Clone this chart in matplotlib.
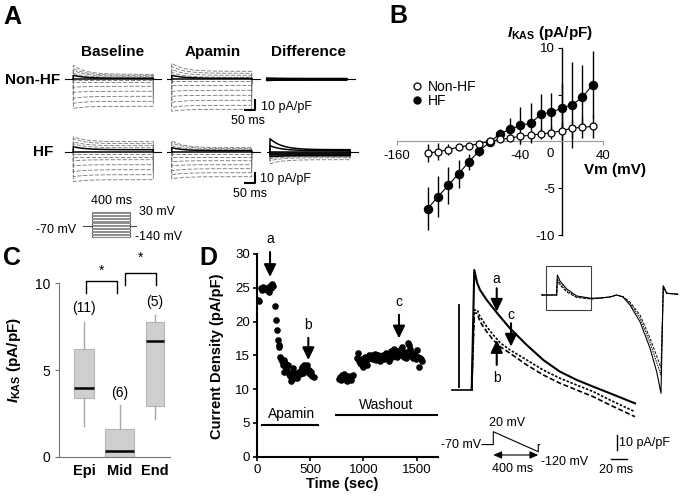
import numpy as np
import matplotlib
matplotlib.use('Agg')
import matplotlib.pyplot as plt
from matplotlib.lines import Line2D
from matplotlib.patches import Rectangle

plt.rcParams['font.family'] = ['Liberation Sans', 'DejaVu Sans']
plt.rcParams['mathtext.fontset'] = 'custom'
plt.rcParams['mathtext.rm'] = 'Liberation Sans:bold'
plt.rcParams['mathtext.it'] = 'Liberation Sans:italic:bold'
plt.rcParams['mathtext.bf'] = 'Liberation Sans:bold'

W, H = 683, 500

# ---------------- panel A: step families (steady / initial current, pA/pF)
nonhf_base_steady = [-27, -22, -17, -12, -7, -3, -1, 0, 1, 2, 3, 4, 5]
nonhf_base_peak = [-29, -24, -19, -13, -8, -3, -1, 0, 4, 6, 9, 11, 14]
nonhf_apa_steady = [-30, -26, -21, -16, -11, -6, -2, 0, 1, 2, 4, 6, 8]
nonhf_apa_peak = [-32, -28, -23, -17, -12, -6, -2, 0, 4, 7, 10, 13, 16]
nonhf_diff_steady = [-1.0, -0.5, 0.0, 0.5]
nonhf_diff_peak = [-1.5, -0.5, 0.0, 1.0]
hf_base_steady = [-28, -23, -18, -13, -8, -5, -2, 0, 2, 4, 6, 8, 10]
hf_base_peak = [-30, -25, -20, -14, -9, -5, -2, 0, 5, 8, 10, 13, 15]
hf_apa_steady = [-25, -21, -17, -13, -9, -5, -2, 0, 1, 2, 3, 4]
hf_apa_peak = [-27, -23, -19, -14, -10, -5, -2, 0, 4, 6, 9, 11]
hf_diff_steady = [-8, -6, -5, -4, -3, -2, -1, 0, 1, 2]
hf_diff_peak = [-12, -9, -7, -5, -3, -2, -1, 0, 6, 13]
step_levels = list(range(-140, 31, 10))

# ---------------- panel B: I-V
vm = [-130, -120, -110, -100, -90, -80, -70, -60, -50, -40, -30, -20, -10, 0, 10, 20, 30]
hf_mean = [-7.2, -5.9, -4.7, -3.45, -2.2, -1.0, -0.1, 0.8, 1.3, 1.7, 1.95, 2.9, 3.1, 3.55, 3.9, 4.7, 6.05]
hf_err = [2.3, 2.2, 2.0, 1.5, 0.9, 0.6, 0.3, 0.5, 1.2, 2.0, 2.1, 2.2, 2.05, 2.65, 4.6, 3.5, 3.6]
nonhf_mean = [-1.25, -1.1, -0.9, -0.6, -0.45, -0.25, 0.0, 0.2, 0.35, 0.55, 0.65, 0.8, 0.9, 1.15, 1.4, 1.5, 1.6]
nonhf_err = [1.0, 0.9, 0.6, 0.3, 0.2, 0.2, 0.1, 0.2, 0.2, 0.3, 0.4, 0.6, 0.7, 1.0, 1.0, 1.1, 1.2]

# ---------------- panel C: box plots
regions = ['Epi', 'Mid', 'End']
n_cells = ['(11)', '(6)', '(5)']
whis_lo = [1.75, 0.0, 2.2]
q1 = [3.4, 0.0, 2.95]
med = [3.95, 0.33, 6.67]
q3 = [6.2, 1.6, 7.75]
whis_hi = [7.8, 3.0, 8.2]

# ---------------- panel D: time course
t_sec = [15, 25, 40, 50, 62, 75, 88, 100, 112, 122, 132, 140, 148, 156,
         172, 180, 188, 196, 205, 212, 220, 228, 236, 244, 252, 260, 268, 276, 285, 294,
         303, 312, 322, 332, 342, 352, 362, 372, 382, 392, 402, 412, 422, 432, 442, 452,
         462, 472, 482, 492, 502, 512, 522, 534,
         770, 780, 790, 800, 810, 820, 830, 840, 850, 860, 870, 880, 890, 905,
         940, 950, 960, 970, 980, 990, 1000, 1010, 1020, 1030, 1040, 1050, 1060, 1070,
         1080, 1090, 1100, 1110, 1120, 1130, 1140, 1150, 1160, 1170, 1180, 1190, 1200,
         1210, 1220, 1230, 1240, 1250, 1260, 1270, 1280, 1290, 1300, 1310, 1320, 1330,
         1340, 1350, 1360, 1370, 1380, 1390, 1400, 1410, 1420, 1430, 1440, 1450, 1460,
         1470, 1480, 1490, 1500, 1510, 1520, 1530, 1540, 1550]
density = [23.2, 23.0, 24.9, 24.6, 25.1, 24.8, 25.0, 24.7, 24.4, 25.2, 24.9, 25.4, 25.6, 25.3,
           22.3, 20.3, 18.7, 17.2, 16.6, 16.2, 14.8, 14.4, 14.1, 13.6, 12.5, 14.3, 13.9, 13.2, 12.7, 13.5,
           12.2, 11.9, 11.2, 12.4, 13.1, 11.6, 12.0, 12.4, 11.7, 12.6, 12.3, 12.9, 13.3, 12.4, 13.6, 12.9,
           13.4, 13.5, 12.6, 12.8, 12.2, 12.6, 12.0, 11.8,
           11.5, 11.8, 11.3, 12.1, 11.6, 12.3, 11.9, 11.4, 11.2, 12.0, 11.6, 11.3, 11.9, 12.1,
           14.6, 15.3, 14.2, 13.8, 14.5, 13.6, 13.3, 14.1, 14.7, 13.5, 14.4, 15.0, 14.6, 14.9,
           15.1, 14.4, 14.8, 15.2, 14.3, 14.6, 15.0, 14.7, 14.2, 14.8, 15.0, 14.5, 14.9,
           15.3, 14.6, 15.0, 14.1, 15.4, 15.6, 14.8, 15.2, 15.9, 15.3, 15.7, 14.7, 15.6,
           15.1, 16.0, 16.3, 15.2, 14.8, 15.5, 14.6, 15.0, 16.8, 16.5, 16.0, 14.9, 15.4,
           14.6, 15.1, 14.5, 15.8, 14.7, 13.3, 14.6, 14.4, 14.2]

# ramp-evoked currents (ms, pA/pF) for a = baseline, b = apamin, c = washout
tr_t = [0, 3.3, 7.1, 10.6, 19.1, 27.5, 36.1, 48.8, 70.1, 91.2, 112.5, 133.8, 154.9, 176.2, 208]
tr_a = [0, 80, 71.1, 66.7, 60, 54.5, 48.9, 41.1, 30, 20, 12.2, 6.7, 2.2, -2.2, -8.9]
tr_b = [0, 51.3, 51.1, 45.5, 38.9, 33.3, 28.9, 24.5, 16.7, 10, 4.5, 0, -4.5, -10, -17.8]
tr_c = [0, 53.3, 53.3, 48.9, 42.2, 36.7, 31.5, 26.7, 20, 13.3, 7.8, 3.3, -1.1, -6.7, -14.5]
# whole-ramp inset traces
ins_t = [-57.5, 0, 2.3, 12.7, 38.4, 76.7, 131.5, 166, 204.4, 230, 254, 281, 319.5, 357.8, 383.5, 400, 408.8, 421.8, 465]
ins_a = [0, 0, 80, 56, 24, -4, -13, -12, -8, 0, -8, -40, -107, -212, -307, -393, 37, 7, 3]
ins_b = [0, 0, 56, 40, 12, -10, -16, -13, -8, 0, -6, -28, -80, -172, -244, -292, 32, 7, 3]
ins_c = [0, 0, 64, 46, 17, -8, -15, -12, -8, 0, -7, -33, -92, -190, -270, -320, 34, 7, 3]
ramp_t = [-100, 0, 0, 400, 400, 412]
ramp_v = [-70, -70, 20, -120, -70, -70]

fig = plt.figure(figsize=(6.83, 5), dpi=100)


def rect(x0, x1, y0, y1):
    return [x0 / W, 1 - y1 / H, (x1 - x0) / W, (y1 - y0) / H]


def px_axes(x0, x1, y0, y1, xlim, ylim):
    ax = fig.add_axes(rect(x0, x1, y0, y1))
    ax.set_xlim(xlim)
    ax.set_ylim(ylim)
    ax.axis('off')
    return ax


def ftext(x, y, s, **kw):
    kw.setdefault('ha', 'center')
    kw.setdefault('va', 'center')
    fig.text(x / W, 1 - y / H, s, **kw)


# ================= A =================
tt = np.linspace(0, 400, 161)


def family(ax, steady, peak, dark_from, dark_to, lead=40):
    ax.plot([-lead, 0], [0, 0], color='k', lw=0.8)
    ax.plot([400, 440], [0, 0], color='k', lw=0.8)
    for k, (s, p) in enumerate(zip(steady, peak)):
        cur = s + (p - s) * np.exp(-tt / 60.0)
        x = np.r_[0, tt, 400]
        y = np.r_[0, cur, 0]
        if dark_from <= k <= dark_to:
            ax.plot(x, y, color='k', lw=1.1, zorder=3)
        else:
            ax.plot(x, y, color='0.45', lw=0.6, ls=(0, (5, 2)))


def a_axes(x_on, y_b):
    return px_axes(x_on - 15, x_on + 95, y_b - 25, y_b + 35, (-75, 475), (-35, 25))


ax1 = a_axes(73.3, 79.3)
family(ax1, nonhf_base_steady, nonhf_base_peak, 7, 8)
ax2 = a_axes(171.7, 79.3)
family(ax2, nonhf_apa_steady, nonhf_apa_peak, 7, 8, lead=25)
ax3 = a_axes(266.7, 79.0)
family(ax3, nonhf_diff_steady, nonhf_diff_peak, 0, 3, lead=0)
ax4 = a_axes(73.3, 151.7)
family(ax4, hf_base_steady, hf_base_peak, 7, 8)
ax5 = a_axes(171.7, 151.7)
family(ax5, hf_apa_steady, hf_apa_peak, 7, 8, lead=25)
ax6 = a_axes(270, 151.7)
family(ax6, hf_diff_steady, hf_diff_peak, 3, 9, lead=15)
for ax in (ax2, ax5):
    ax.plot([366, 416, 416], [-31, -31, -21], color='k', lw=1.5, clip_on=False)

ftext(113, 52, 'Baseline', fontsize=11, fontweight='bold')
ftext(213, 52, 'Apamin', fontsize=11, fontweight='bold')
ftext(308, 52, 'Difference', fontsize=11, fontweight='bold')
ftext(33, 80, 'Non-HF', fontsize=11, fontweight='bold')
ftext(43, 152, 'HF', fontsize=11, fontweight='bold')
ftext(261, 107, '10 pA/pF', fontsize=9, ha='left')
ftext(248, 121, '50 ms', fontsize=9)
ftext(260, 179, '10 pA/pF', fontsize=9, ha='left')
ftext(250, 194, '50 ms', fontsize=9)

axp = px_axes(80, 140, 205, 242, (-122, 504), (-176, 75.6))
for v in step_levels:
    axp.plot([0, 400], [v, v], color='0.55', lw=0.7)
axp.add_patch(Rectangle((0, -140), 400, 170, fill=False, ec='0.3', lw=0.8))
axp.plot([-90, 0], [-70, -70], color='0.3', lw=0.8)
axp.plot([400, 460], [-70, -70], color='0.3', lw=0.8)
ftext(56, 230, '-70 mV', fontsize=9)
ftext(112, 201, '400 ms', fontsize=9)
ftext(157, 212, '30 mV', fontsize=9)
ftext(159, 237, '-140 mV', fontsize=9)

# ================= B =================
axB = fig.add_axes(rect(396.7, 603, 47.7, 235))
axB.plot(vm, hf_mean, color='k', lw=0.8, zorder=2)
axB.errorbar(vm, hf_mean, yerr=hf_err, fmt='o', color='k', mfc='k', ms=5.8,
             elinewidth=1, capsize=0, zorder=3)
axB.plot(vm, nonhf_mean, color='k', lw=0.8, zorder=4)
axB.errorbar(vm, nonhf_mean, yerr=nonhf_err, fmt='o', color='k', mfc='white', ms=5,
             mew=0.9, elinewidth=1, capsize=0, zorder=5)
axB.set_xlim(-160, 40)
axB.set_ylim(-10, 10)
for s in ('top', 'right'):
    axB.spines[s].set_visible(False)
axB.spines['left'].set_position(('data', 0))
axB.spines['bottom'].set_position(('data', 0))
axB.spines['bottom'].set_color('0.6')
axB.spines['left'].set_linewidth(1.0)
axB.set_yticks([-10, -5, 0, 5, 10])
axB.set_yticklabels(['-10', '-5', '', '', '10'])
axB.set_xticks([-160, -40, 0, 40])
axB.set_xticklabels(['-160', '-40', '', '40'])
axB.tick_params(axis='y', direction='out', length=3, labelsize=9.5, pad=2)
axB.tick_params(axis='x', direction='out', length=3, color='0.6', labelsize=9.5, pad=3)
axB.annotate('0', xy=(0, 0), xytext=(-8, -5), textcoords='offset points',
             ha='center', va='top', fontsize=9.5)
axB.set_facecolor('none')
hnd = [Line2D([], [], marker='o', ls='none', mfc='white', mec='k', ms=5, mew=0.9),
       Line2D([], [], marker='o', ls='none', mfc='k', mec='k', ms=5)]
axB.legend(hnd, ['Non-HF', 'HF'], loc='upper left', bbox_to_anchor=(411 / W, 1 - 80 / H),
           bbox_transform=fig.transFigure, frameon=False, fontsize=10, handlelength=0.8,
           handletextpad=0.4, labelspacing=0.0, borderpad=0, borderaxespad=0)
ftext(550, 33, r'$I_{\mathrm{KAS}}$ (pA/pF)', fontsize=11, fontweight='bold')
ftext(615, 170, 'Vm (mV)', fontsize=11, fontweight='bold')

# ================= C =================
axC = fig.add_axes(rect(59.3, 170, 456.7 - 12 * 17.33, 456.7))
stats = [dict(med=m, q1=a, q3=b, whislo=lo, whishi=hi, fliers=[])
         for m, a, b, lo, hi in zip(med, q1, q3, whis_lo, whis_hi)]
axC.bxp(stats, positions=[1, 2, 3], widths=[0.55, 0.8, 0.52], patch_artist=True,
        showcaps=False,
        boxprops=dict(facecolor='#cfcfcf', edgecolor='#b5b5b5', lw=0.8),
        whiskerprops=dict(color='#a8a8a8', lw=1),
        medianprops=dict(color='k', lw=1.8))
axC.set_xlim(0.3, 3.42)
axC.set_ylim(0, 12)
for s in ('top', 'right'):
    axC.spines[s].set_visible(False)
axC.spines['left'].set_bounds(0, 10)
axC.spines['left'].set_color('0.45')
axC.spines['bottom'].set_color('0.45')
axC.set_yticks([0, 5, 10])
axC.set_xticks([1, 2, 3])
axC.set_xticklabels(regions, fontweight='bold')
axC.tick_params(axis='y', direction='out', length=3, color='0.45', labelsize=10)
axC.tick_params(axis='x', length=0, labelsize=10.5, pad=5)
axC.set_facecolor('none')
for x, y, s in zip([1, 2, 3], [8.58, 3.67, 8.94], n_cells):
    axC.text(x, y, s, ha='center', va='center', fontsize=10)
axC.plot([1.06, 1.06, 1.92, 1.92], [9.43, 10.14, 10.14, 9.43], color='k', lw=1)
axC.plot([2.14, 2.14, 3.02, 3.02], [9.9, 10.6, 10.6, 9.9], color='k', lw=1)
axC.text(1.48, 10.73, '*', ha='center', va='center', fontsize=10)
axC.text(2.6, 11.47, '*', ha='center', va='center', fontsize=10)
ftext(14, 360, r'$I_{\mathrm{KAS}}$ (pA/pF)', fontsize=11, fontweight='bold', rotation=90)

# ================= D =================
axD = fig.add_axes(rect(256.7, 438, 254, 456.7))
axD.scatter(t_sec, density, s=14, color='k', zorder=3)
axD.set_xlim(0, 1700)
axD.set_ylim(0, 30)
for s in ('top', 'right'):
    axD.spines[s].set_visible(False)
for s in ('left', 'bottom'):
    axD.spines[s].set_linewidth(1.5)
axD.set_xticks([0, 500, 1000, 1500])
axD.set_yticks(range(0, 31, 5))
axD.tick_params(direction='out', length=3, width=1.2, labelsize=9.5, pad=2)
axD.set_facecolor('none')
axD.plot([53, 578], [4.7, 4.7], color='k', lw=1.5)
axD.plot([744, 1688], [6.2, 6.2], color='k', lw=1.5, clip_on=False)
axD.text(328, 6.3, 'Apamin', ha='center', va='center', fontsize=10)
axD.text(1218, 7.6, 'Washout', ha='center', va='center', fontsize=10)
arw = dict(arrowstyle='-|>,head_length=0.75,head_width=0.36', color='k', lw=1.5,
           shrinkA=0, shrinkB=0)
for x, y0, y1, lab in [(125, 30.3, 26.6, 'a'), (484, 17.6, 14.3, 'b'), (1334, 21.0, 17.5, 'c')]:
    axD.annotate('', xy=(x, y1), xytext=(x, y0), arrowprops=arw, annotation_clip=False)
    axD.text(x, y0 + 0.9, lab, ha='center', va='bottom', fontsize=10, clip_on=False)
ftext(217, 356, 'Current Density (pA/pF)', fontsize=10.5, fontweight='bold', rotation=90)
ftext(342, 484, 'Time (sec)', fontsize=10.5, fontweight='bold')

# ramp traces
axT = px_axes(445, 640, 262, 420, (-34, 214.4), (-20, 85.3))
axT.plot([-25.5, 0], [0, 0], color='k', lw=1.2)
axT.plot([-16.2, -16.2], [2.2, 56.7], color='k', lw=1.3)
axT.plot(tr_t, tr_a, color='k', lw=1.5)
axT.plot(tr_t, tr_b, color='k', lw=1.2, ls=(0, (3, 1.5)))
axT.plot(tr_t, tr_c, color='k', lw=1.2, ls=(0, (1.5, 1)))
for x, y0, y1, lab, ly in [(31.9, 67.8, 52.2, 'a', 74), (50.1, 44.5, 28.9, 'c', 50),
                           (31.9, 16.7, 33.3, 'b', 7.8)]:
    axT.annotate('', xy=(x, y1), xytext=(x, y0), arrowprops=arw, annotation_clip=False)
    axT.text(x, ly, lab, ha='center', va='center', fontsize=10)
axT.plot([184.7, 184.7], [-30, -40], color='k', lw=1, clip_on=False)
axT.plot([177.5, 197.5], [-46.2, -46.2], color='k', lw=1, clip_on=False)
ftext(619, 443, '10 pA/pF', fontsize=9, ha='left')
ftext(616, 470, '20 ms', fontsize=9)

# inset whole-ramp traces
axI = px_axes(535, 683, 262, 400, (-83.2, 484.4), (-420, 132))
axI.plot(ins_t, ins_a, color='k', lw=0.8)
axI.plot(ins_t, ins_b, color='k', lw=0.7, ls=(0, (3, 1.5)))
axI.plot(ins_t, ins_c, color='k', lw=0.7, ls=(0, (1.5, 1)))
axI.add_patch(Rectangle((-41, -60), 172.5, 177, fill=False, ec='0.25', lw=0.8))

# ramp protocol
axR = px_axes(470, 560, 420, 462, (-207, 593), (-192, 101.9))
axR.plot(ramp_t, ramp_v, color='k', lw=0.8)
axR.annotate('', xy=(0, -143), xytext=(400, -143),
             arrowprops=dict(arrowstyle='<|-|>,head_length=0.5,head_width=0.22', color='k',
                             lw=0.8, shrinkA=0, shrinkB=0))
ftext(507, 423, '20 mV', fontsize=9)
ftext(481, 445, '-70 mV', fontsize=9, ha='right')
ftext(541, 462, '-120 mV', fontsize=9, ha='left')
ftext(513, 469, '400 ms', fontsize=9)

# panel letters
for x, y, s in [(12, 17, 'A'), (398, 16, 'B'), (12, 258, 'C'), (208, 258, 'D')]:
    ftext(x, y, s, fontsize=18, fontweight='bold')

fig.savefig('out.png', dpi=100)
